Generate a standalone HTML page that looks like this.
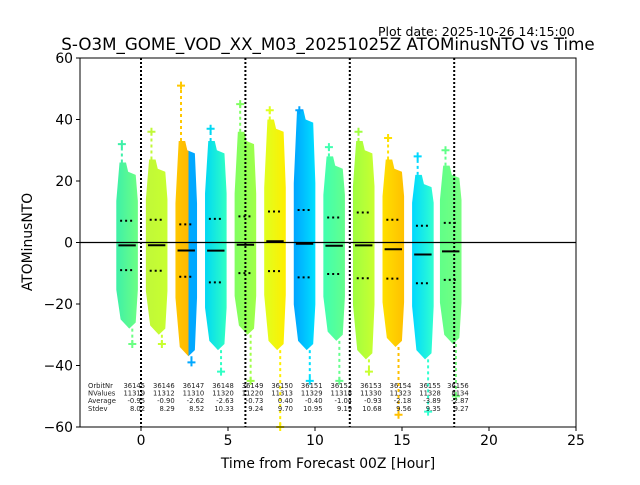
<!DOCTYPE html>
<html><head><meta charset="utf-8"><style>
body{margin:0;background:#fff}
svg text{font-family:"DejaVu Sans","Liberation Sans",sans-serif}
</style></head><body>
<svg id="c" width="640" height="480" viewBox="0 0 640 480">
<defs id="defs"></defs>
<text x="378" y="36" font-size="12.5">Plot date: 2025-10-26 14:15:00</text>
<text x="328" y="50" font-size="16.7" text-anchor="middle">S-O3M_GOME_VOD_XX_M03_20251025Z ATOMinusNTO vs Time</text>
<g id="plot"></g>
<rect x="80" y="58" width="496" height="369" fill="none" stroke="#000" stroke-width="1"/>
<g id="axes"></g>
<text x="328" y="468" font-size="13.9" text-anchor="middle">Time from Forecast 00Z [Hour]</text>
<text x="32" y="242" font-size="13.9" text-anchor="middle" transform="rotate(-90 32 242)">ATOMinusNTO</text>
<g id="stats"></g>
</svg>
<script>
const orbits=["36145","36146","36147","36148","36149","36150","36151","36152","36153","36154","36155","36156"];
const nvalues=["11319","11312","11310","11320","11220","11313","11329","11318","11330","11323","11328","8134"];
const centers=[-0.8,0.9,2.6,4.3,6.0,7.7,9.4,11.1,12.8,14.5,16.2,17.8];
const means=[-0.95,-0.90,-2.62,-2.63,-0.73,0.40,-0.40,-1.04,-0.93,-2.18,-3.89,-2.87];
const sds=[8.02,8.29,8.52,10.33,9.24,9.70,10.95,9.19,10.68,9.56,9.35,9.27];
const tops=[26,27,33,33,36,40,43,28,33,27,22,25];
const bottoms=[-28,-30,-37,-35,-30,-35,-35,-32,-38,-34,-38,-33];
const maxs=[32,36,51,37,45,43,43,31,36,34,28,30];
const mins=[-33,-33,-39,-42,-45,-60,-45,-45,-42,-56,-55,-50];
const colL=["#3ef0a8","#c0f838","#ffc800","#00d8f4","#80ff60","#e0ff20","#00a4ff","#40ffb0","#a0ff40","#ffe000","#00d8ff","#60ff88"];
const colR=["#6cff84","#c8ff30","#00a8ff","#30ffc4","#a0ff48","#ffee00","#00e0ff","#64ff8c","#c8ff30","#ffc000","#30ffd0","#78ff80"];
const xticks=[0,5,10,15,20,25];
const yticks=[60,40,20,0,-20,-40,-60];
const vlines=[0,6,12,18];
const NS="http://www.w3.org/2000/svg";
const xs=h=>141+(h)*17.4;
const ys=v=>242.5-v*3.075;
function mk(t,a,p){const e=document.createElementNS(NS,t);for(const k in a)e.setAttribute(k,a[k]);p.appendChild(e);return e;}
const plot=document.getElementById('plot'),defs=document.getElementById('defs'),axes=document.getElementById('axes'),stats=document.getElementById('stats');
const hw=0.62;
orbits.forEach((o,i)=>{
  const g=mk('linearGradient',{id:'g'+i,x1:0,x2:1,y1:0,y2:0},defs);
  if(i===2){mk('stop',{offset:0,'stop-color':colL[i]},g);mk('stop',{offset:0.6,'stop-color':'#ffb800'},g);mk('stop',{offset:0.6,'stop-color':colR[i]},g);mk('stop',{offset:1,'stop-color':colR[i]},g);}
  else{mk('stop',{offset:0,'stop-color':colL[i]},g);mk('stop',{offset:1,'stop-color':colR[i]},g);}
  const x0=xs(centers[i]-hw),x1=xs(centers[i]+hw),w=x1-x0;
  const cT=means[i]+1.8*sds[i],cB=means[i]-1.8*sds[i];
  const yt=ys(tops[i]),yb=ys(bottoms[i]),yct=ys(cT),ycb=ys(cB);
  const d=`M${x0+w*0.15},${yt}L${x0+w*0.45},${yt}L${x0+w*0.55},${ys(tops[i]-3)}L${x1-w*0.1},${ys(tops[i]-4)}L${x1},${yct}L${x1},${ycb}L${x1-w*0.1},${ys(bottoms[i]+2)}L${x0+w*0.6},${yb}L${x0+w*0.2},${ys(bottoms[i]+3)}L${x0},${ycb}L${x0},${yct}Z`;
  const r=mk('path',{d:d,fill:'url(#g'+i+')'},plot);
  
  
  [[maxs[i],-0.3,colL[i]],[mins[i],0.3,colR[i]]].forEach(([v,dx,c])=>{
    const x=xs(centers[i]+dx),y=ys(v);
    const m=mk('path',{d:`M${x-4},${y}H${x+4}M${x},${y-4}V${y+4}`,stroke:c,'stroke-width':2},plot);
    
    
    const s=mk('line',{x1:x,x2:x,y1:ys(v>0?tops[i]:bottoms[i]),y2:y,stroke:c,'stroke-width':2,'stroke-dasharray':'3,3'},plot);
    
    
  });
  const ml=mk('line',{x1:xs(centers[i]-0.5),x2:xs(centers[i]+0.5),y1:ys(means[i]),y2:ys(means[i]),stroke:'#000','stroke-width':2},plot);
  
  
  [1,-1].forEach(s=>{
    const l=mk('line',{x1:xs(centers[i]-0.4),x2:xs(centers[i]+0.4),y1:ys(means[i]+s*sds[i]),y2:ys(means[i]+s*sds[i]),stroke:'#000','stroke-width':2,'stroke-dasharray':'2,3'},plot);
    
    
  });
});
const z=mk('line',{x1:80,x2:576,y1:ys(0),y2:ys(0),stroke:'#000','stroke-width':1.2},plot);


vlines.forEach(h=>{
  const l=mk('line',{x1:xs(h),x2:xs(h),y1:58,y2:427,stroke:'#000','stroke-width':2,'stroke-dasharray':'2,2'},plot);
  
  
});
xticks.forEach(t=>{
  mk('line',{x1:xs(t),x2:xs(t),y1:427,y2:431,stroke:'#000'},axes);
  const tx=mk('text',{x:xs(t),y:445,'font-size':13.9,'text-anchor':'middle'},axes);tx.textContent=t;
  
  
});
yticks.forEach(t=>{
  mk('line',{x1:76,x2:80,y1:ys(t),y2:ys(t),stroke:'#000'},axes);
  const tx=mk('text',{x:73,y:ys(t)+5,'font-size':13.9,'text-anchor':'end'},axes);tx.textContent=(t<0?'\u2212'+(-t):t);
  
  
});
const rows=[["OrbitNr",orbits],["NValues",nvalues],["Average",means.map(v=>v.toFixed(2))],["Stdev",sds.map(v=>v.toFixed(2))]];
rows.forEach((r,j)=>{
  const y=388+j*7.6;
  const lb=mk('text',{x:88,y:y,'font-size':6.8,fill:'#222'},stats);lb.textContent=r[0];
  
  
  r[1].forEach((v,i)=>{
    const t=mk('text',{x:xs(centers[i])+18,y:y,'font-size':6.8,'text-anchor':'end',fill:'#222'},stats);t.textContent=v;
    
    
  });
});
</script>
</body></html>
